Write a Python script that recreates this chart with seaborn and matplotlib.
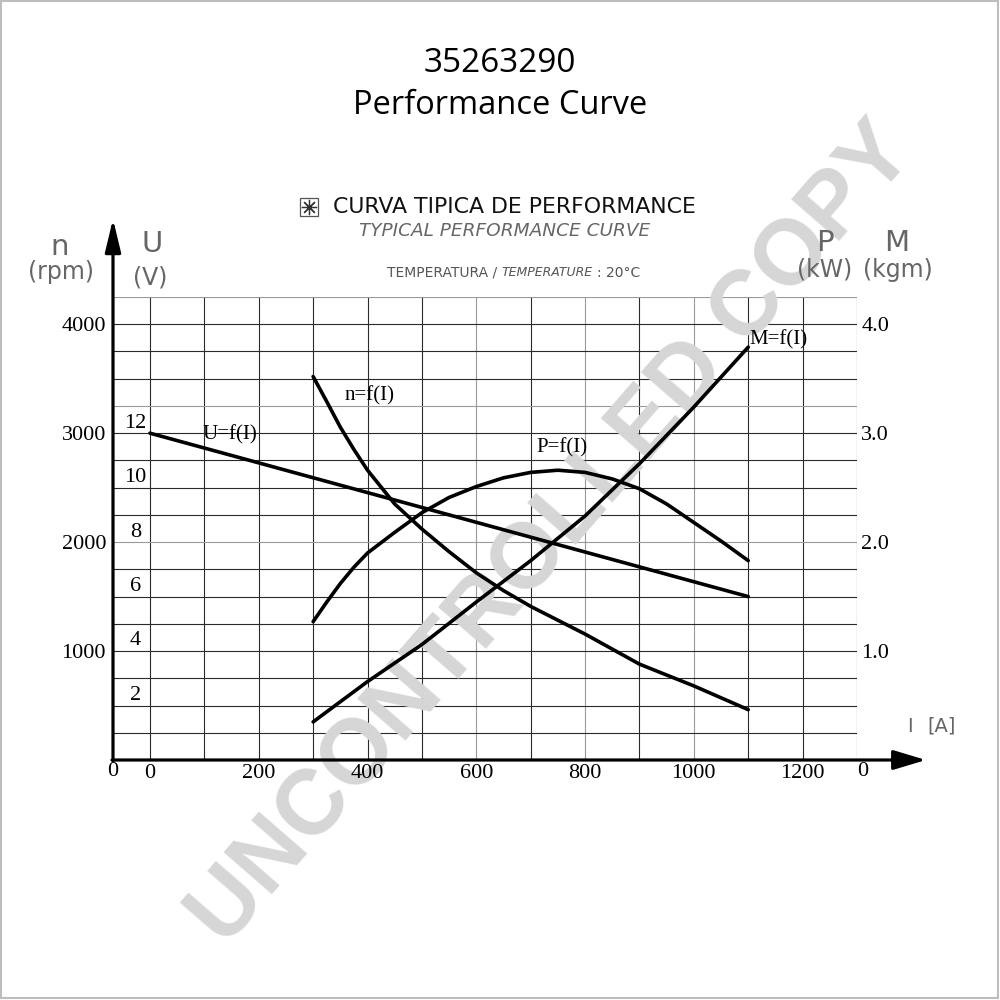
import numpy as np
import pandas as pd
import matplotlib
matplotlib.use("Agg")
import matplotlib.pyplot as plt
import seaborn as sns
from matplotlib.patches import Rectangle

# ---------------- data ----------------
speed_current_a = [300, 325, 350, 375, 400, 450, 500, 550, 600, 650, 700, 800, 900, 1000, 1100]
speed_rpm = [3520, 3290, 3055, 2850, 2660, 2350, 2120, 1912, 1718, 1555, 1410, 1156, 880, 680, 462]

voltage_current_a = [0, 1100]
voltage_v = [12.0, 6.0]

power_current_a = [300, 325, 350, 375, 400, 450, 500, 550, 600, 650, 700, 750,
                   800, 850, 900, 950, 1000, 1050, 1100]
power_kw = [1.27, 1.45, 1.62, 1.77, 1.90, 2.09, 2.27, 2.41, 2.51, 2.59, 2.64, 2.66,
            2.64, 2.58, 2.49, 2.35, 2.18, 2.01, 1.83]

torque_current_a = [300, 400, 500, 600, 700, 800, 900, 1000, 1100]
torque_kgm = [0.35, 0.72, 1.06, 1.45, 1.83, 2.24, 2.72, 3.24, 3.79]

current_ticks = [0, 200, 400, 600, 800, 1000, 1200]
rpm_ticks = [1000, 2000, 3000, 4000]
volt_ticks = [2, 4, 6, 8, 10, 12]
pm_ticks = [1.0, 2.0, 3.0, 4.0]

df_n = pd.DataFrame({"I": speed_current_a, "n": speed_rpm})
df_u = pd.DataFrame({"I": voltage_current_a, "U": voltage_v})
df_p = pd.DataFrame({"I": power_current_a, "P": power_kw})
df_m = pd.DataFrame({"I": torque_current_a, "M": torque_kgm})

# ---------------- style ----------------
sns.set_style("white")
plt.rcParams["font.family"] = ["Liberation Serif", "DejaVu Serif"]
plt.rcParams["text.color"] = "black"
plt.rcParams["xtick.color"] = "black"
plt.rcParams["ytick.color"] = "black"
SERIF = "Liberation Serif"
SANS = "DejaVu Sans"

fig = plt.figure(figsize=(10, 10), dpi=100)
L, R, T, B = 113, 857, 297, 760
ax = fig.add_axes([L / 1000, 1 - B / 1000, (R - L) / 1000, (B - T) / 1000])
ax.set_xlim(-68, 1300)
ax.set_ylim(0, 4250)
ax.set_axisbelow(False)
for s in ax.spines.values():
    s.set_visible(False)

# grid
dark, grey = "#2a2a2a", "#9a9a9a"
for v in range(0, 1301, 100):
    ax.axvline(v, color=grey if v in (600, 800, 1000) else dark, lw=0.8, zorder=1)
for h in range(250, 4251, 250):
    ax.axhline(h, color=grey if h in (2000, 3250, 4250) else dark, lw=0.8, zorder=1)

# watermark (between grid and curves)
ax.text(0.553, 0.465, "UNCONTROLLED COPY", transform=fig.transFigure,
        rotation=49, rotation_mode="anchor", ha="center", va="center",
        fontsize=66, fontweight="bold", family="Liberation Sans",
        color="#d6d6d6", zorder=1.5, clip_on=False)

# ticks
ax.set_xticks(current_ticks)
ax.set_xticklabels([str(t) for t in current_ticks], family=SERIF, fontsize=16)
ax.set_yticks(rpm_ticks)
ax.set_yticklabels([str(t) for t in rpm_ticks], family=SERIF, fontsize=16)
ax.tick_params(axis="both", length=0)
ax.tick_params(axis="x", pad=3)
ax.tick_params(axis="y", pad=5)

# speed curve on rpm axis
sns.lineplot(data=df_n, x="I", y="n", ax=ax, color="black", lw=2.6,
             sort=False, estimator=None, zorder=3)
ax.set_xlabel("")
ax.set_ylabel("")

# voltage axis (twin)
ax_u = ax.twinx()
ax_u.set_ylim(0, 17)
ax_u.set_xlim(-68, 1300)
sns.lineplot(data=df_u, x="I", y="U", ax=ax_u, color="black", lw=2.6,
             sort=False, estimator=None)
ax_u.set_yticks([])
ax_u.set_ylabel("")
for s in ax_u.spines.values():
    s.set_visible(False)
for v in volt_ticks:
    ax_u.text(-27, v + 0.37, str(v), ha="center", va="center",
              family=SERIF, fontsize=16)

# power / torque axis (twin)
ax_p = ax.twinx()
ax_p.set_ylim(0, 4.25)
ax_p.set_xlim(-68, 1300)
sns.lineplot(data=df_p, x="I", y="P", ax=ax_p, color="black", lw=2.6,
             sort=False, estimator=None)
sns.lineplot(data=df_m, x="I", y="M", ax=ax_p, color="black", lw=2.6,
             sort=False, estimator=None)
ax_p.set_yticks(pm_ticks)
ax_p.set_yticklabels([f"{t:.1f}" for t in pm_ticks], family=SERIF, fontsize=16)
ax_p.tick_params(axis="y", length=0, pad=3)
ax_p.set_ylabel("")
for s in ax_p.spines.values():
    s.set_visible(False)
ax_p.set_xlabel("")
ax.set_xlabel("")

# curve labels
ax.text(147, 2982, "U=f(I)", ha="center", va="center", family=SERIF, fontsize=15, zorder=4)
ax.text(403, 3339, "n=f(I)", ha="center", va="center", family=SERIF, fontsize=15, zorder=4)
ax.text(758, 2862, "P=f(I)", ha="center", va="center", family=SERIF, fontsize=15, zorder=4)
ax.text(1156, 3858, "M=f(I)", ha="center", va="center", family=SERIF, fontsize=15, zorder=4)

# ---------------- decorations in pixel space ----------------
deco = fig.add_axes([0, 0, 1, 1], zorder=10)
deco.set_xlim(0, 1000)
deco.set_ylim(1000, 0)
deco.axis("off")
deco.patch.set_alpha(0)

deco.add_patch(Rectangle((1, 1), 997, 997, fill=False, edgecolor="#bdbdbd", lw=1.5))

# axis arrows
deco.annotate("", xy=(926, 760), xytext=(112, 760),
              arrowprops=dict(arrowstyle="-|>,head_length=1.0,head_width=0.3",
                              lw=2.3, color="black", mutation_scale=20,
                              shrinkA=0, shrinkB=0))
deco.annotate("", xy=(113, 219), xytext=(113, 761),
              arrowprops=dict(arrowstyle="-|>,head_length=1.0,head_width=0.24",
                              lw=2.3, color="black", mutation_scale=20,
                              shrinkA=0, shrinkB=0))

# origin zeros
deco.text(113, 772, "0", ha="center", va="center", family=SERIF, fontsize=16)
deco.text(863, 772, "0", ha="center", va="center", family=SERIF, fontsize=16)

# titles
deco.text(500, 63, "35263290", ha="center", va="center", family="Open Sans",
          fontsize=24, color="black")
deco.text(500, 106, "Performance Curve", ha="center", va="center", family="Open Sans",
          fontsize=23.5, color="black")

# header block
deco.add_patch(Rectangle((300, 198), 18, 18, fill=False, edgecolor="#555555", lw=0.9))
deco.plot([309], [207], marker=(8, 2, 0), ms=11, mew=0.9, color="#333333")
deco.text(514, 207, "CURVA TIPICA DE PERFORMANCE", ha="center", va="center",
          family=SANS, fontsize=15.8, color="#111111")
deco.text(505, 231, "TYPICAL PERFORMANCE CURVE", ha="center", va="center",
          family=SANS, fontsize=13.3, style="italic", color="#666666")
deco.text(497, 273, "TEMPERATURA /", ha="right", va="center",
          family=SANS, fontsize=10, color="#555555")
deco.text(501, 273, "TEMPERATURE", ha="left", va="center",
          family=SANS, fontsize=9, style="italic", color="#555555")
deco.text(597, 273, ": 20°C", ha="left", va="center",
          family=SANS, fontsize=10, color="#555555")

# axis unit labels
lab = dict(ha="center", va="center", family=SANS, color="#666666")
deco.text(60, 247, "n", fontsize=21, **lab)
deco.text(61, 272, "(rpm)", fontsize=17, **lab)
deco.text(152, 244, "U", fontsize=21, **lab)
deco.text(150, 277, "(V)", fontsize=17, **lab)
deco.text(825, 243, "P", fontsize=21, **lab)
deco.text(825, 270, "(kW)", fontsize=17, **lab)
deco.text(897, 243, "M", fontsize=21, **lab)
deco.text(898, 270, "(kgm)", fontsize=17, **lab)
deco.text(910, 726, "I", fontsize=14, **lab)
deco.text(942, 726, "[A]", fontsize=14, **lab)

fig.savefig("out.png", dpi=100)
